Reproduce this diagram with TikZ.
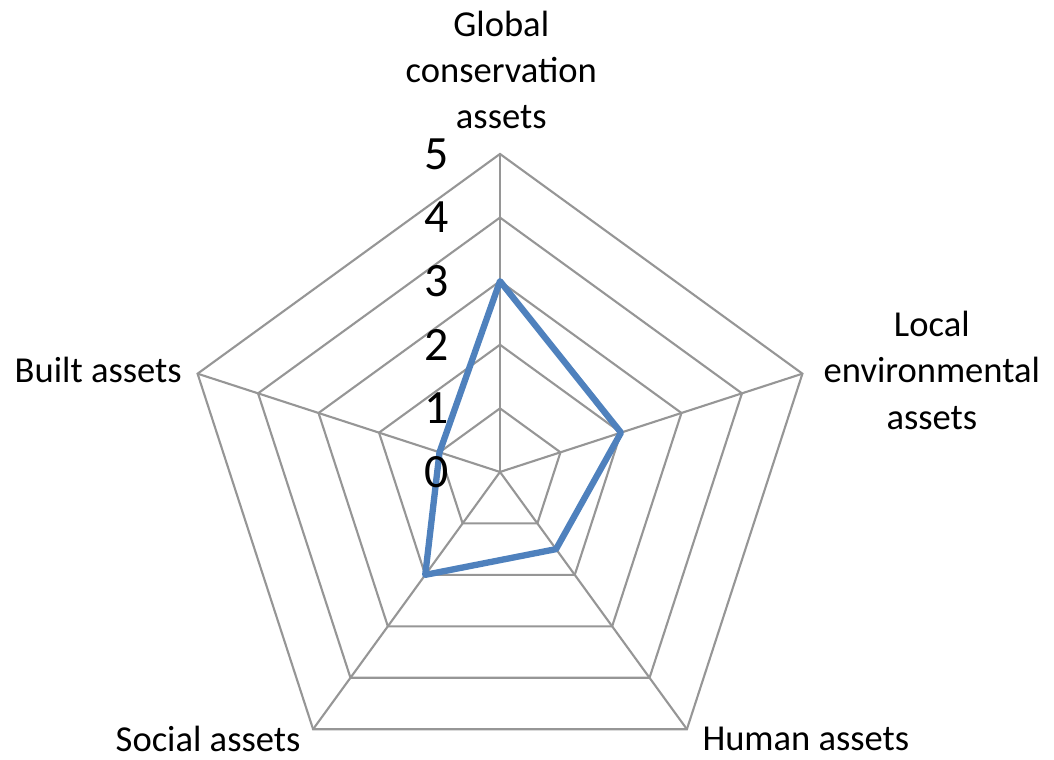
\documentclass[tikz,border=0pt]{standalone}
\usepackage{fontspec}
\setmainfont{Carlito}
\definecolor{gridgray}{RGB}{150,150,150}
\definecolor{seriesblue}{RGB}{79,129,189}
\usepackage{tikz}

\begin{document}
\begin{tikzpicture}[x=1.59cm, y=1.59cm,
    gridline/.style={draw=gridgray, line width=1.5pt},
    axislabel/.style={font=\fontsize{26}{33}\selectfont, align=center, inner sep=0pt},
    ticklabel/.style={font=\fontsize{34}{34}\selectfont, inner sep=0pt}]
  \useasboundingbox (-7.862,-4.528) rectangle (8.711,7.421);
  % rings and spokes
  \foreach \r in {1,...,5}
    \draw[gridline] (90:\r) -- (18:\r) -- (-54:\r) -- (-126:\r) -- (162:\r) -- cycle;
  \coordinate (centre) at (0,0);
  \foreach \a/\n in {90/global,18/local,-54/human,-126/social,162/built} {
    \coordinate (\n) at (\a:5);
    \draw[gridline] (centre) -- (\n);
  }
  % data
  \draw[seriesblue, line width=4.5pt, line join=round]
    (90:3) -- (18:2) -- (-54:1.5) -- (-126:2) -- (162:1) -- cycle;
  % scale
  \foreach \v in {0,...,5}
    \node[ticklabel] (tick\v) at (-1,\v) {\v};
  % labels
  \node[axislabel] (globallabel) at (0.02,6.32) {Global\\conservation\\assets};
  \node[axislabel] (locallabel) at (6.79,1.6) {Local\\environmental\\assets};
  \node[axislabel, anchor=east] (builtlabel) at (-5.0,1.6) {Built assets};
  \node[axislabel] (sociallabel) at (-4.59,-4.2) {Social assets};
  \node[axislabel] (humanlabel) at (4.81,-4.2) {Human assets};
\end{tikzpicture}
\end{document}
